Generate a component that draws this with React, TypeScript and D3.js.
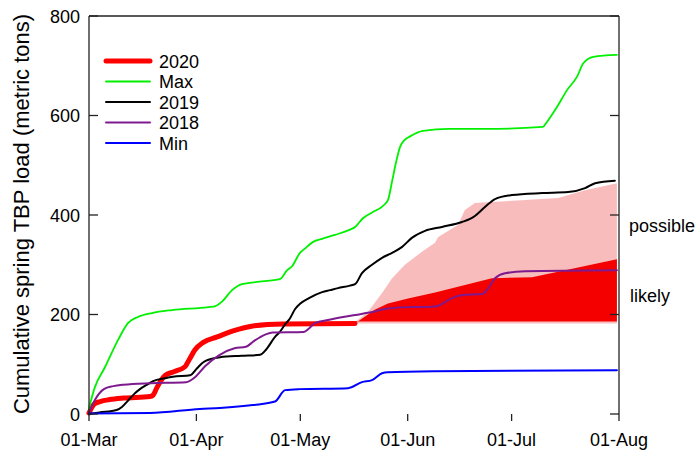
import React from 'react';
import * as d3 from 'd3';

// ---------- data (day offsets from 01-Mar, cumulative metric tons) ----------
const yTicks = [0, 200, 400, 600, 800];
const xTickMonths = [2, 3, 4, 5, 6, 7];
const xTickLabels = ['01-Mar', '01-Apr', '01-May', '01-Jun', '01-Jul', '01-Aug'];

const obs2020Days = [0, 1.5, 3.2, 6, 10, 17.6, 18.5, 19.6, 21.9, 24.5, 27.7, 29, 30.6, 33, 37, 41.6, 47.3, 56, 76.8];
const obs2020Vals = [2, 20, 25, 29, 32, 35, 38, 53, 77, 85, 95, 110, 129, 144, 155, 167, 177, 181, 182];

const maxDays = [0, 1.7, 4.6, 8.4, 11.3, 14.1, 18.2, 24, 34.4, 36.5, 38.4, 41.3, 44.2, 50.8, 55.1, 57.2, 58.6, 60.9, 62.4, 64.7, 67.3, 71, 74.8, 77, 79, 81.7, 84.8, 86.3, 87.5, 88.6, 89.8, 91, 92.7, 96.4, 104, 114, 131, 132.2, 135.1, 138, 140.9, 142.7, 145.6, 152.4];
const maxVals = [12, 54, 94, 149, 183, 195, 203, 209, 215, 217, 226, 249, 261, 267, 271, 289, 297, 324, 333, 346, 352, 360, 369, 377, 393, 405, 418, 430, 468, 505, 537, 550, 558, 569, 573, 573, 577, 587, 617, 651, 678, 705, 718, 722];

const y2019Days = [0, 3, 8, 9.5, 11, 13, 14.7, 16.5, 18.5, 22, 24.2, 29.2, 31.2, 33, 34.1, 37.8, 44, 49.4, 50.8, 51.4, 53.7, 55.1, 56.6, 58, 59.5, 61, 63.5, 67.3, 69.6, 71.9, 75.3, 76.8, 78.8, 81.7, 84.6, 87.5, 90.4, 93.2, 97, 101.9, 107.7, 110, 111.4, 114.3, 117.2, 122.1, 130.8, 138.3, 143.2, 146.1, 151.8];
const y2019Vals = [0, 3, 8, 14, 25, 40, 50, 58, 66, 72, 75, 78, 92, 104, 108, 114, 117, 119, 127, 132, 155, 165, 180, 192, 211, 222, 233, 245, 249, 253, 258, 261, 283, 300, 314, 324, 336, 354, 368, 376, 386, 392, 398, 416, 432, 440, 444, 446, 454, 464, 469];

const y2018Days = [0, 1.7, 4.3, 7, 10, 18, 28, 30.6, 33.5, 37.5, 42, 45.3, 47.5, 51, 53, 62, 63.5, 65.3, 69, 76.8, 81.7, 86.3, 93, 97, 100.7, 103, 104.8, 108, 113.5, 115.5, 117.2, 120.1, 125.9, 152.4];
const y2018Vals = [2, 28, 50, 56, 59, 62, 64, 74, 96, 118, 132, 135, 146, 160, 164, 165, 172, 183, 189, 199, 205, 212, 215, 215, 217, 226, 233, 239, 241, 255, 273, 283, 287, 289];

const minDays = [0, 17.6, 32, 37.8, 47.3, 53.7, 56.6, 60.9, 74.8, 78.8, 81.7, 84.6, 86.3, 99.9, 152.4];
const minVals = [1, 2, 10, 12, 18, 25, 48, 50, 52, 64, 68, 82, 84, 86, 88];

const possibleDays = [76.8, 80.5, 84.6, 87.5, 91.2, 96.1, 99.9, 100.8, 106.5, 108.5, 111.4, 116.3, 125.9, 135.4, 143.2, 149.8, 152.4];
const possibleHigh = [185, 205, 243, 273, 300, 326, 344, 356, 380, 410, 424, 426, 430, 434, 450, 460, 464];
const possibleLow = 182;

const likelyDays = [76.8, 79.7, 82.6, 86.3, 92.1, 99.9, 116.3, 127.9, 152.4];
const likelyHigh = [182, 196, 210, 222, 232, 244, 273, 275, 311];
const likelyLow = 186;

const legendLabels = ['2020', 'Max', '2019', '2018', 'Min'];
const legendColors = ['#ff0000', '#00f000', '#000000', '#7e1a8e', '#0000ff'];
const legendWidths = [5, 1.8, 2, 2, 2];

// ---------- helpers ----------
const W = 698;
const H = 451;
const START = Date.UTC(2020, 2, 1);
const DAY = 86400000;
const toDate = (d: number) => new Date(START + d * DAY);

const x = d3.scaleUtc()
  .domain([new Date(Date.UTC(2020, 2, 1)), new Date(Date.UTC(2020, 7, 1))])
  .range([89, 619]);
const y = d3.scaleLinear().domain([0, 800]).range([414, 16]);

type P = [number, number];
const zip = (ds: number[], vs: number[]): P[] => ds.map((d, i) => [d, vs[i]]);

const line = d3.line<P>()
  .x((p) => x(toDate(p[0])))
  .y((p) => y(p[1]))
  .curve(d3.curveMonotoneX);

const band = (ds: number[], hi: number[], lo: number) =>
  d3.area<number>()
    .x((_, i) => x(toDate(ds[i])))
    .y0(() => y(lo))
    .y1((_, i) => y(hi[i]))
    .curve(d3.curveLinear)(ds.map((_, i) => i)) || '';

const FONT = '"Liberation Sans", Arial, Helvetica, sans-serif';
const AX = '#222';

export default function App() {
  const series = [
    { pts: zip(obs2020Days, obs2020Vals), color: legendColors[0], w: legendWidths[0] },
    { pts: zip(maxDays, maxVals), color: legendColors[1], w: legendWidths[1] },
    { pts: zip(y2019Days, y2019Vals), color: legendColors[2], w: legendWidths[2] },
    { pts: zip(y2018Days, y2018Vals), color: legendColors[3], w: legendWidths[3] },
    { pts: zip(minDays, minVals), color: legendColors[4], w: legendWidths[4] },
  ];
  const x0 = x.range()[0];
  const x1 = x.range()[1];
  const yTop = y(800);
  const yBot = y(0);
  return (
    <svg width={W} height={H} style={{ position: 'absolute', left: 0, top: 0, background: '#fff' }}
      fontFamily={FONT}>
      {/* fans */}
      <path d={band(possibleDays, possibleHigh, possibleLow)} fill="#f9bcbc" stroke="none" />
      <path d={band(likelyDays, likelyHigh, likelyLow)} fill="#f50000" stroke="none" />

      {/* lines */}
      {series.map((s, i) => (
        <path key={i} d={line(s.pts) || ''} fill="none" stroke={s.color} strokeWidth={s.w}
          strokeLinejoin="round" strokeLinecap="round" />
      ))}

      {/* frame: left, top, right */}
      <line x1={x0} x2={x0} y1={yTop} y2={yBot} stroke={AX} strokeWidth={1.3} />
      <line x1={x0} x2={x1} y1={yTop} y2={yTop} stroke={AX} strokeWidth={1.3} />
      <line x1={x1} x2={x1} y1={yTop} y2={yBot} stroke={AX} strokeWidth={1.3} />

      {/* y ticks */}
      {yTicks.map((t) => (
        <g key={t}>
          <line x1={x0} x2={x0 + 9} y1={y(t)} y2={y(t)} stroke={AX} strokeWidth={1.3} />
          <line x1={x1} x2={x1 - 9} y1={y(t)} y2={y(t)} stroke={AX} strokeWidth={1.3} />
          <text x={80} y={y(t) + 6.5} fontSize={18} textAnchor="end" fill="#000">{t}</text>
        </g>
      ))}

      {/* x ticks */}
      {xTickMonths.map((m, i) => {
        const px = x(new Date(Date.UTC(2020, m, 1)));
        return (
          <g key={m}>
            <line x1={px} x2={px} y1={yBot} y2={yBot + 7} stroke={AX} strokeWidth={1.3} />
            <text x={px} y={446} fontSize={18} textAnchor="middle" fill="#000">{xTickLabels[i]}</text>
          </g>
        );
      })}

      {/* y title */}
      <text transform="translate(28.5,214) rotate(-90)" fontSize={22} textAnchor="middle" fill="#000">
        Cumulative spring TBP load (metric tons)
      </text>

      {/* legend */}
      {legendLabels.map((l, i) => {
        const ly = 61 + i * 20.5;
        return (
          <g key={l}>
            <line x1={106} x2={150} y1={ly} y2={ly} stroke={legendColors[i]} strokeWidth={legendWidths[i]}
              strokeLinecap="round" />
            <text x={159} y={ly + 6.5} fontSize={18} fill="#000">{l}</text>
          </g>
        );
      })}

      {/* fan labels */}
      <text x={629} y={231.5} fontSize={18} fill="#000">possible</text>
      <text x={630} y={301.5} fontSize={18} fill="#000">likely</text>
    </svg>
  );
}
